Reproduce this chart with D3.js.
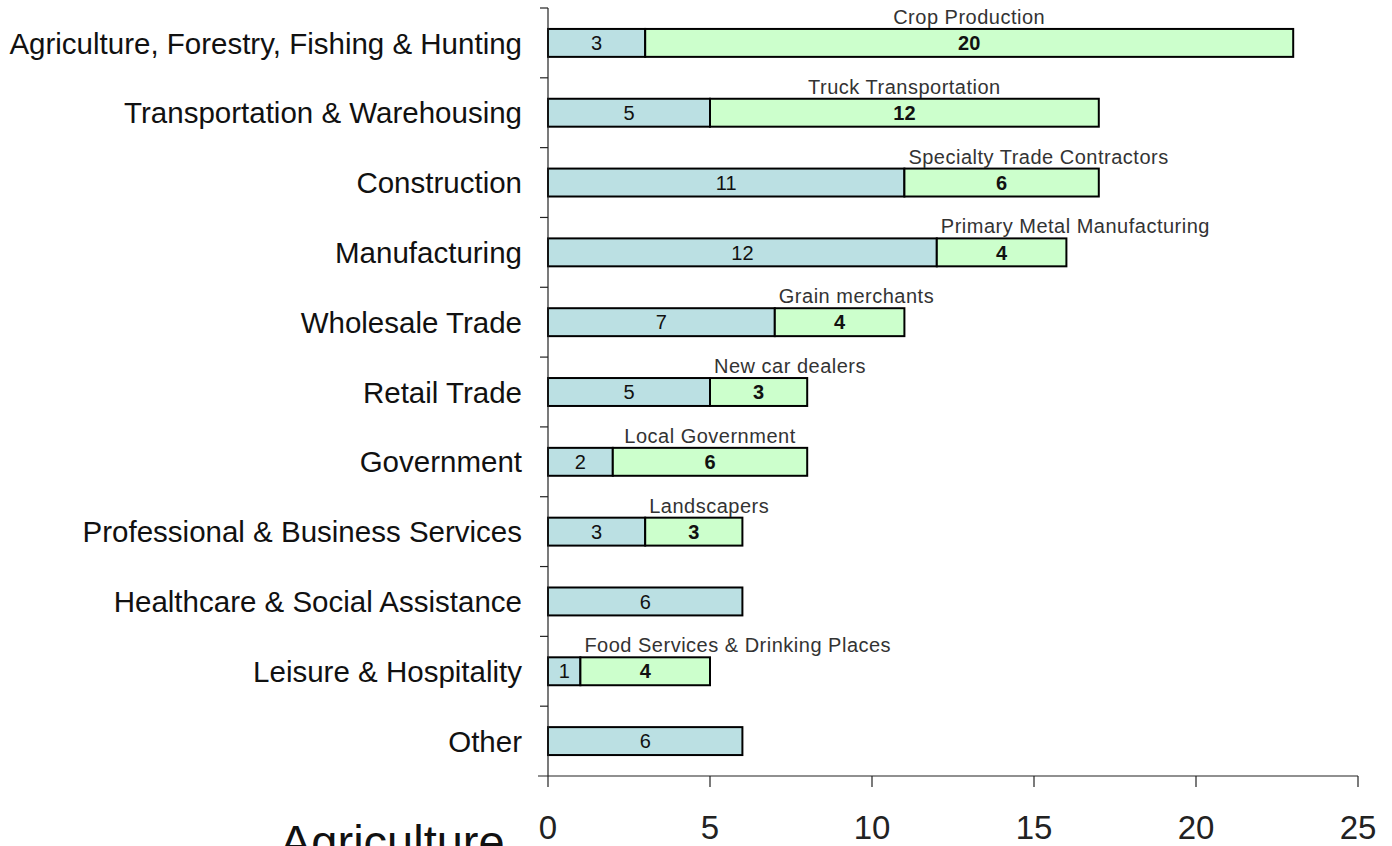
<!DOCTYPE html>
<html>
<head>
<meta charset="utf-8">
<script src="https://cdn.jsdelivr.net/npm/d3@7"></script>
<style>
  body { margin: 0; background: #fff; }
  svg { display: block; font-family: "Liberation Sans", Arial, sans-serif; }
</style>
</head>
<body>
<svg id="chart" width="1392" height="846"></svg>
<script>
// industry sectors, top to bottom
var sectors = [
  "Agriculture, Forestry, Fishing & Hunting",
  "Transportation & Warehousing",
  "Construction",
  "Manufacturing",
  "Wholesale Trade",
  "Retail Trade",
  "Government",
  "Professional & Business Services",
  "Healthcare & Social Assistance",
  "Leisure & Hospitality",
  "Other"
];
// blue part of each bar
var restValues = [3, 5, 11, 12, 7, 5, 2, 3, 6, 1, 6];
// green part: the leading sub-sector
var topValues = [20, 12, 6, 4, 4, 3, 6, 3, 0, 4, 0];
var topNames = [
  "Crop Production",
  "Truck Transportation",
  "Specialty Trade Contractors",
  "Primary Metal Manufacturing",
  "Grain merchants",
  "New car dealers",
  "Local Government",
  "Landscapers",
  "",
  "Food Services & Drinking Places",
  ""
];
var xTicks = [0, 5, 10, 15, 20, 25];

var svg = d3.select("#chart");

var x = d3.scaleLinear().domain([0, 25]).range([548, 1358]);
var y = d3.scaleBand().domain(sectors).range([8, 776]).paddingInner(0.6).paddingOuter(0.3);
var band = d3.scaleBand().domain(sectors).range([8, 776]);

var rows = sectors.map(function (s, i) {
  return {name: s, rest: restValues[i], top: topValues[i], label: topNames[i]};
});

// bars
var g = svg.selectAll(".row")
  .data(rows)
  .enter()
  .append("g")
  .attr("class", "row");

g.append("rect")
  .attr("x", x(0))
  .attr("y", function (d) {return y(d.name);})
  .attr("width", function (d) {return x(d.rest) - x(0);})
  .attr("height", y.bandwidth())
  .style("fill", "#bbe0e3")
  .style("stroke", "#000")
  .style("stroke-width", 2);

g.filter(function (d) {return d.top > 0;})
  .append("rect")
  .attr("x", function (d) {return x(d.rest);})
  .attr("y", function (d) {return y(d.name);})
  .attr("width", function (d) {return x(d.rest + d.top) - x(d.rest);})
  .attr("height", y.bandwidth())
  .style("fill", "#ccffcc")
  .style("stroke", "#000")
  .style("stroke-width", 2);

// numbers inside bars
g.append("text")
  .attr("x", function (d) {return (x(0) + x(d.rest)) / 2;})
  .attr("y", function (d) {return y(d.name) + y.bandwidth() / 2;})
  .attr("dy", "0.36em")
  .attr("text-anchor", "middle")
  .attr("font-size", 20)
  .attr("fill", "#111")
  .text(function (d) {return d.rest;});

g.filter(function (d) {return d.top > 0;})
  .append("text")
  .attr("x", function (d) {return (x(d.rest) + x(d.rest + d.top)) / 2;})
  .attr("y", function (d) {return y(d.name) + y.bandwidth() / 2;})
  .attr("dy", "0.36em")
  .attr("text-anchor", "middle")
  .attr("font-size", 20)
  .attr("font-weight", "bold")
  .attr("fill", "#111")
  .text(function (d) {return d.top;});

// sub-sector names above the green part
g.filter(function (d) {return d.label !== "";})
  .append("text")
  .attr("class", "sublabel")
  .attr("y", function (d) {return y(d.name) - 5;})
  .attr("font-size", 20)
  .attr("letter-spacing", 0.5)
  .attr("fill", "#333")
  .text(function (d) {return d.label;})
  .attr("x", function (d) {
    var w = this.getComputedTextLength();
    var x0 = x(d.rest), x1 = x(d.rest + d.top);
    return Math.max((x0 + x1) / 2 - w / 2, x0 + 4);
  });

// sector names
svg.selectAll(".cat")
  .data(sectors)
  .enter()
  .append("text")
  .attr("class", "cat")
  .attr("x", 522)
  .attr("y", function (d) {return y(d) + y.bandwidth() / 2;})
  .attr("dy", "0.36em")
  .attr("text-anchor", "end")
  .attr("font-size", 29.5)
  .attr("fill", "#111")
  .text(function (d) {return d;});

// left axis with ticks between categories
svg.append("line")
  .attr("x1", x(0)).attr("x2", x(0))
  .attr("y1", 8).attr("y2", 776)
  .style("stroke", "#222").style("stroke-width", 1.2);

svg.selectAll(".ytick")
  .data(sectors)
  .enter()
  .append("line")
  .attr("x1", x(0) - 8).attr("x2", x(0))
  .attr("y1", function (d) {return band(d);})
  .attr("y2", function (d) {return band(d);})
  .style("stroke", "#222").style("stroke-width", 1.2);

// bottom axis
svg.append("line")
  .attr("x1", 538).attr("x2", x(25))
  .attr("y1", 776).attr("y2", 776)
  .style("stroke", "#222").style("stroke-width", 1.2);

svg.selectAll(".xtick")
  .data(xTicks)
  .enter()
  .append("line")
  .attr("x1", function (d) {return x(d);})
  .attr("x2", function (d) {return x(d);})
  .attr("y1", 776).attr("y2", 787)
  .style("stroke", "#222").style("stroke-width", 1.2);

svg.selectAll(".xlabel")
  .data(xTicks)
  .enter()
  .append("text")
  .attr("x", function (d) {return x(d);})
  .attr("y", 839)
  .attr("text-anchor", "middle")
  .attr("font-size", 33)
  .attr("fill", "#222")
  .text(function (d) {return d;});

// slide title, cut off at the bottom
svg.append("text")
  .attr("x", 280)
  .attr("y", 858)
  .attr("font-size", 47)
  .attr("fill", "#111")
  .text("Agriculture");
</script>
</body>
</html>
